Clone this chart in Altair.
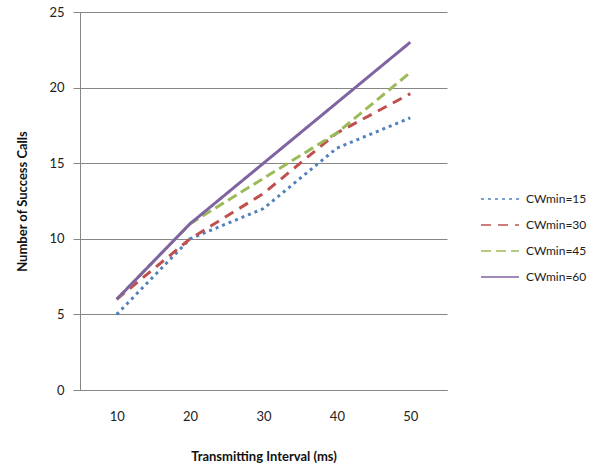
import altair as alt
import pandas as pd

intervals = [10, 20, 30, 40, 50]
series_names = ["CWmin=15", "CWmin=30", "CWmin=45", "CWmin=60"]
cw15 = [5, 10, 12, 16, 18]
cw30 = [6, 10, 13, 17, 19.6]
cw45 = [6, 11, 14, 17, 21]
cw60 = [6, 11, 15, 19, 23]

colors = ["#4F81BD", "#C0504D", "#9BBB59", "#8064A2"]
dashes = [[3, 4], [10, 7], [10, 5], [1, 0]]

rows = []
for name, vals in zip(series_names, [cw15, cw30, cw45, cw60]):
    for x, y in zip(intervals, vals):
        rows.append({"series": name, "interval": x, "calls": y})
df = pd.DataFrame(rows)

font = "Lato"

chart = alt.Chart(df).mark_line(strokeWidth=3).encode(
    x=alt.X("interval:O", title="Transmitting Interval (ms)",
            axis=alt.Axis(labelAngle=0, ticks=False, labelPadding=20,
                          titlePadding=27, domainColor="#868686",
                          labelFontSize=13, titleFontSize=13,
                          titleFontWeight="bold", labelColor="#222",
                          titleColor="#111", grid=False)),
    y=alt.Y("calls:Q", title="Number of Success Calls",
            scale=alt.Scale(domain=[0, 25], nice=False),
            axis=alt.Axis(values=[0, 5, 10, 15, 20, 25], tickSize=7,
                          tickColor="#868686", domainColor="#868686",
                          gridColor="#868686", labelPadding=9,
                          titlePadding=19, labelFontSize=13,
                          titleFontSize=13, titleFontWeight="bold",
                          labelColor="#222", titleColor="#111")),
    color=alt.Color("series:N", title=None,
                    scale=alt.Scale(domain=series_names, range=colors),
                    legend=alt.Legend(orient="none", legendX=400, legendY=167,
                                      symbolType="stroke", symbolSize=1444,
                                      symbolStrokeWidth=1.5, rowPadding=-10,
                                      labelFontSize=12, labelColor="#222",
                                      labelOffset=6)),
    strokeDash=alt.StrokeDash("series:N", title=None,
                              scale=alt.Scale(domain=series_names, range=dashes)),
).properties(
    width=367, height=378,
    autosize=alt.AutoSizeParams(type="none"),
    padding={"left": 80, "top": 12, "right": 155, "bottom": 75},
).configure(font=font).configure_view(stroke=None)

chart.save("out.html", embed_options={"renderer": "svg", "actions": False})
